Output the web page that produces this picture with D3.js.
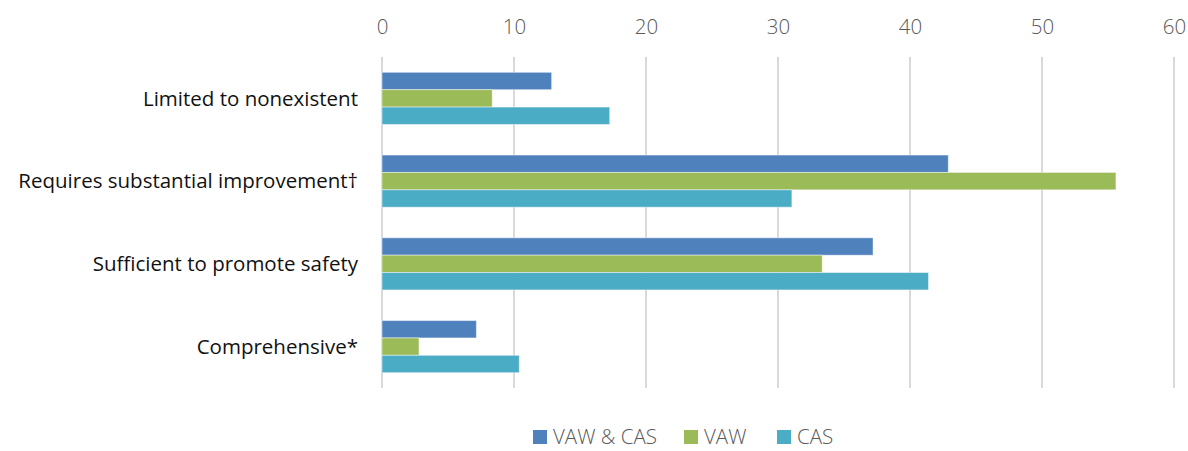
<!DOCTYPE html>
<html lang="en">
  <head>
    <meta charset="UTF-8" />
    <title>Safety planning</title>
    <script src="https://d3js.org/d3.v7.min.js"></script>
    <style>
      body { margin: 0; background: #fff; }
      text { font-family: "Open Sans", sans-serif; }
    </style>
  </head>
  <body>
    <div id="chart"></div>
    <script>
      const categories = ['Limited to nonexistent', 'Requires substantial improvement\u2020', 'Sufficient to promote safety', 'Comprehensive*']
      const seriesNames = ['VAW & CAS', 'VAW', 'CAS']
      const vawCas = [12.85, 42.9, 37.2, 7.15]
      const vaw = [8.35, 55.6, 33.35, 2.8]
      const cas = [17.25, 31.05, 41.4, 10.4]
      const tickValues = [0, 10, 20, 30, 40, 50, 60]
      const colors = ['#4F81BD', '#9BBB59', '#4BACC6']

      const width = 1188
      const height = 451
      const margin = { top: 57, right: 14, bottom: 63, left: 382 }

      const svg = d3.select('#chart').append('svg').attr('width', width).attr('height', height)

      const x = d3.scaleLinear().domain([0, 60]).range([margin.left, width - margin.right])
      const y = d3.scaleBand().domain(categories).range([margin.top, height - margin.bottom]).paddingInner(0.37).paddingOuter(0.185)
      const ySub = d3.scaleBand().domain(seriesNames).range([0, y.bandwidth()])

      // gridlines
      svg.append('g')
        .selectAll('line')
        .data(tickValues)
        .join('line')
        .attr('x1', d => x(d)).attr('x2', d => x(d))
        .attr('y1', margin.top).attr('y2', height - margin.bottom)
        .attr('stroke', '#d9d9d9').attr('stroke-width', 2)

      // top axis labels
      svg.append('g')
        .attr('transform', `translate(0,${margin.top})`)
        .call(d3.axisTop(x).tickValues(tickValues).tickSize(0).tickPadding(23))
        .call(g => g.select('.domain').remove())
        .selectAll('text')
        .attr('fill', '#595959').attr('font-size', 20.5).attr('font-weight', 300)
        .style('font-family', '"Open Sans", sans-serif')

      // category labels
      svg.append('g')
        .selectAll('text')
        .data(categories)
        .join('text')
        .attr('x', 358)
        .attr('y', d => y(d) + y.bandwidth() / 2)
        .attr('dy', '0.35em')
        .attr('text-anchor', 'end')
        .attr('font-size', 20.5)
        .attr('fill', '#111')
        .text(d => d)

      const table = categories.map((c, i) => ({ category: c, values: [vawCas[i], vaw[i], cas[i]] }))

      const groups = svg.append('g')
        .selectAll('g')
        .data(table)
        .join('g')
        .attr('transform', d => `translate(0,${y(d.category)})`)

      groups.selectAll('rect')
        .data(d => d.values.map((v, j) => ({ name: seriesNames[j], value: v, color: colors[j] })))
        .join('rect')
        .attr('x', x(0))
        .attr('y', d => ySub(d.name))
        .attr('width', d => x(d.value) - x(0))
        .attr('height', ySub.bandwidth())
        .attr('fill', d => d.color)
        .attr('stroke', 'rgba(255,255,255,0.45)')
        .attr('stroke-width', 1)

      // legend
      const legendItems = [
        { name: seriesNames[0], color: colors[0], x: 533 },
        { name: seriesNames[1], color: colors[1], x: 684 },
        { name: seriesNames[2], color: colors[2], x: 777 },
      ]
      const legend = svg.append('g')
        .selectAll('g')
        .data(legendItems)
        .join('g')
        .attr('transform', d => `translate(${d.x},430)`)
      legend.append('rect').attr('width', 14).attr('height', 14).attr('fill', d => d.color)
      legend.append('text')
        .attr('x', 20).attr('y', 7).attr('dy', '0.35em')
        .attr('font-size', 20.5).attr('font-weight', 300).attr('fill', '#595959')
        .text(d => d.name)
    </script>
  </body>
</html>
